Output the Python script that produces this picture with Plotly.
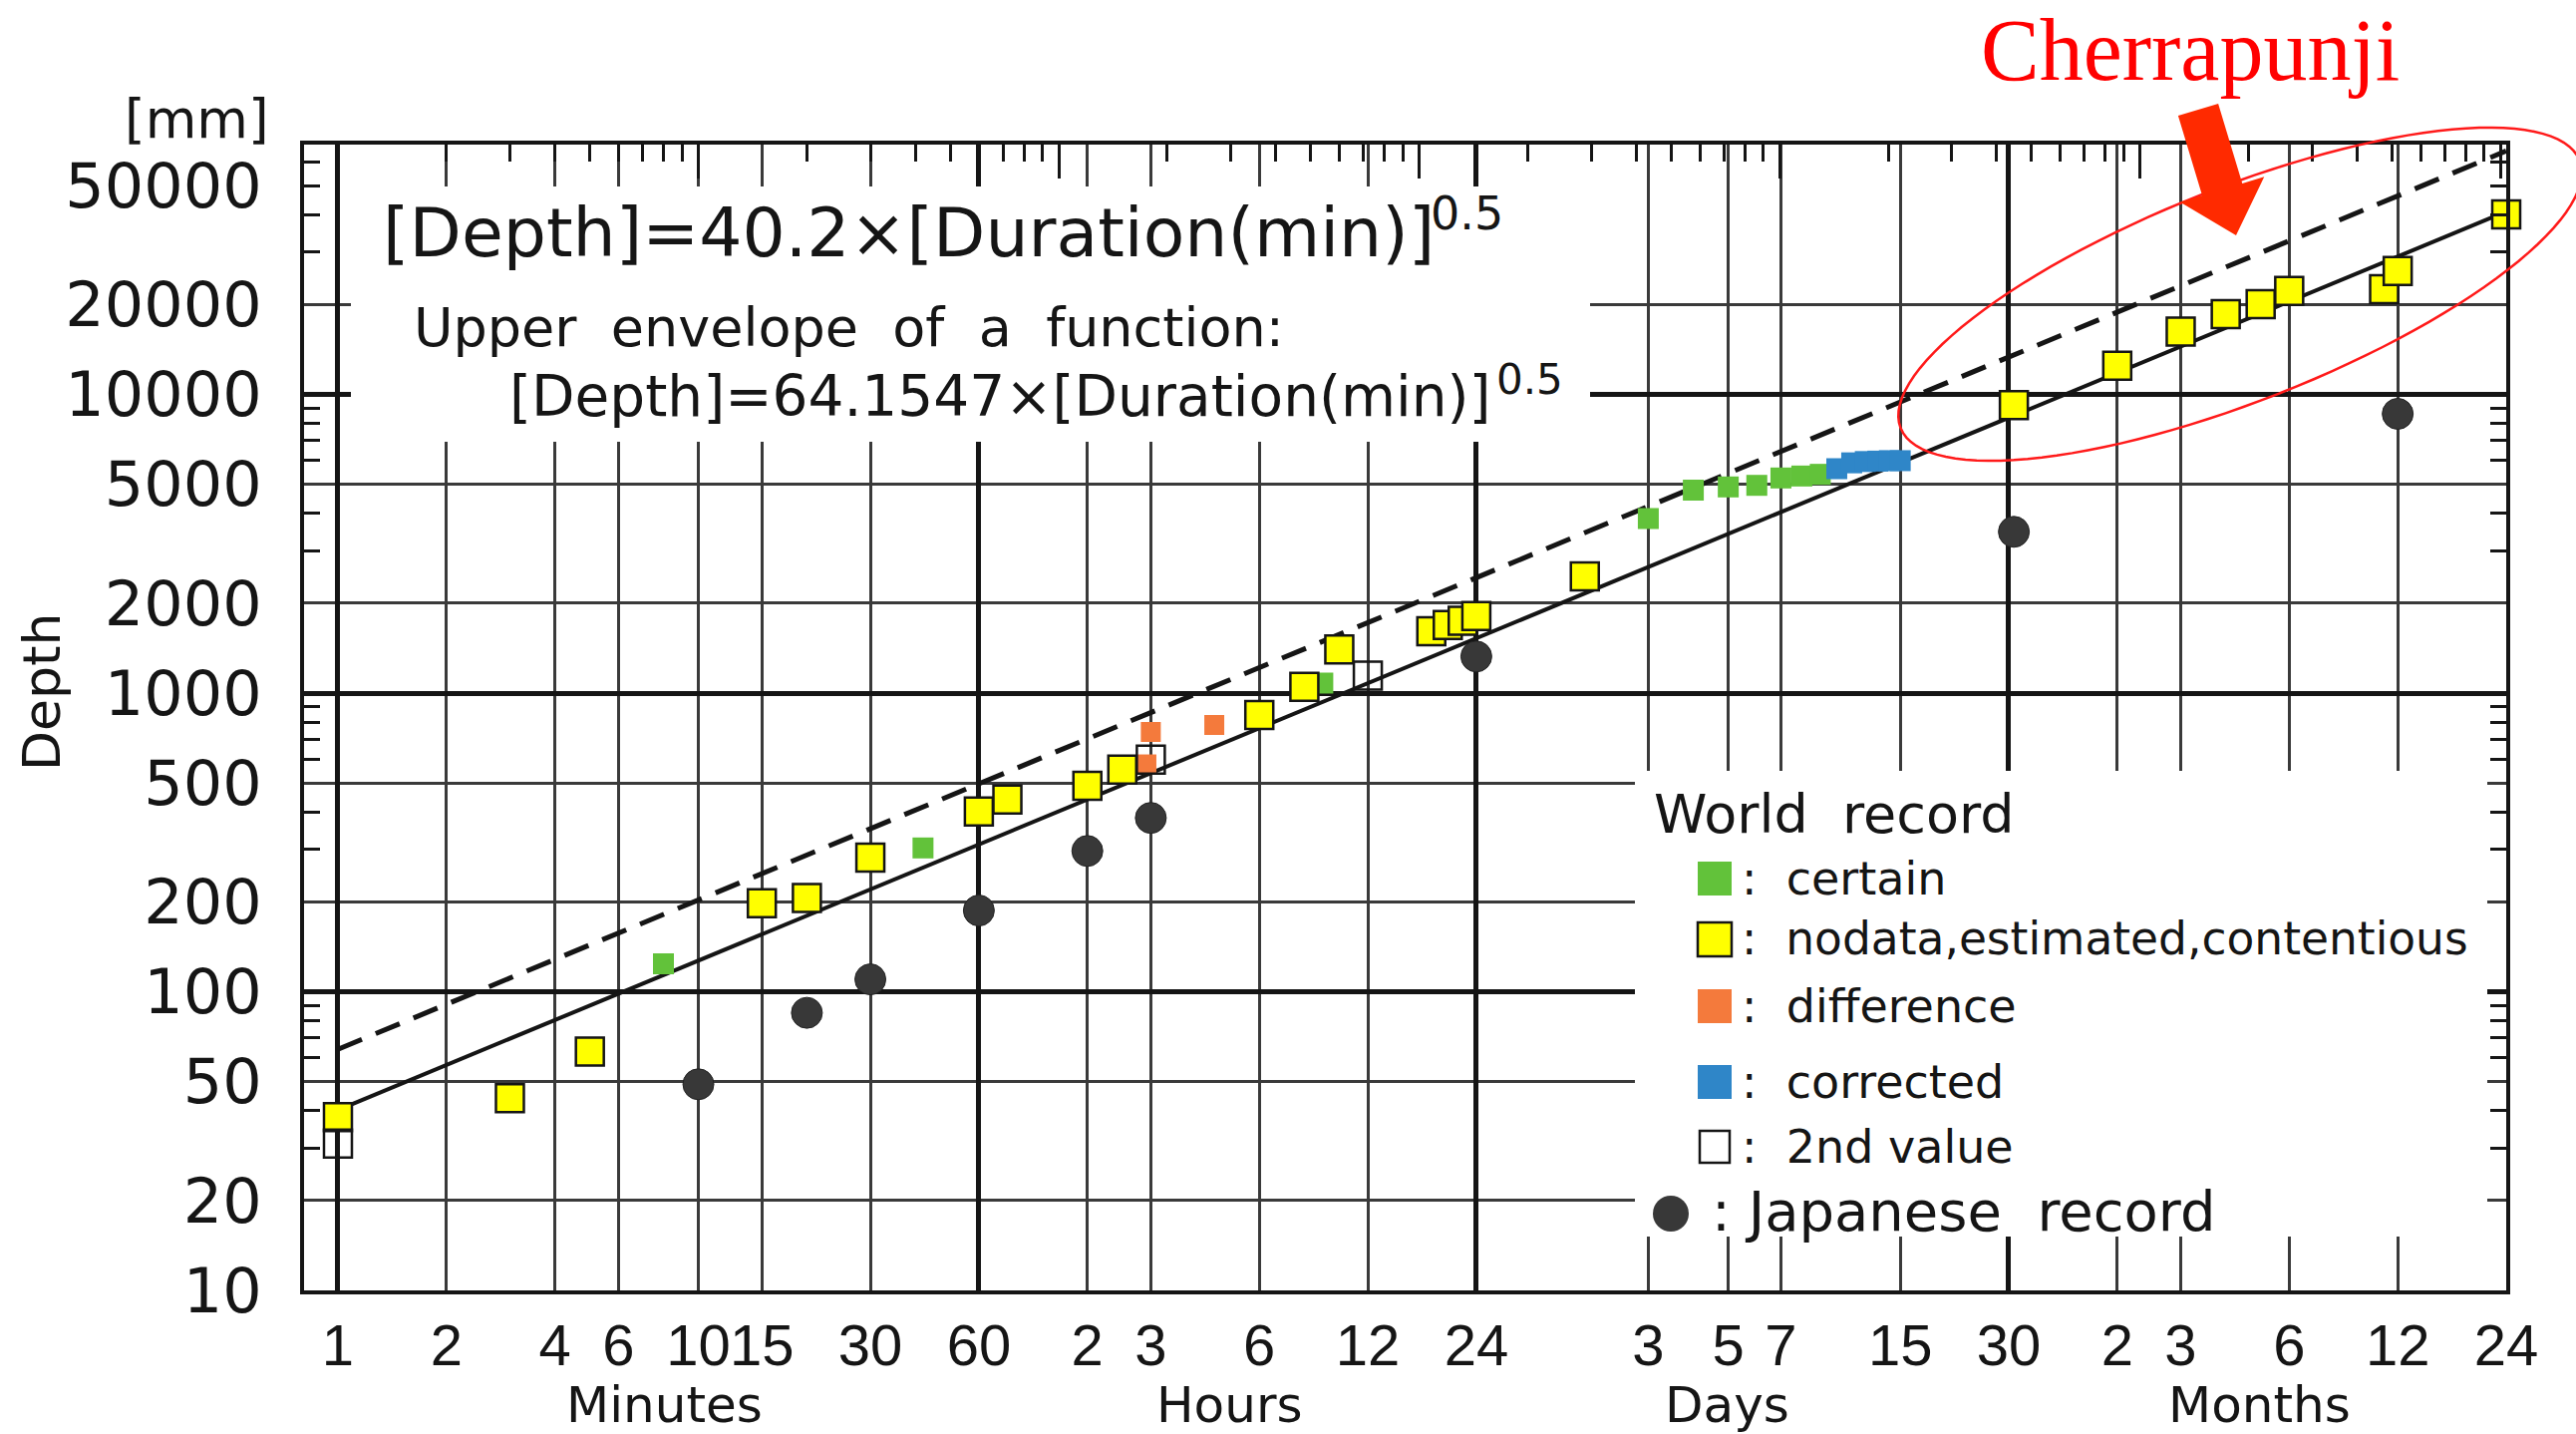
import numpy as np
import plotly.graph_objects as go

# ---------------- data (duration in minutes, depth in mm) ----------------
x_tick_vals = [1, 2, 4, 6, 10, 15, 30, 60, 120, 180, 360, 720, 1440,
               4320, 7200, 10080, 21600, 43200, 86400, 129600, 259200, 518400, 1036800]
x_tick_text = ["1", "2", "4", "6", "10", "15", "30", "60", "2", "3", "6", "12", "24",
               "3", "5", "7", "15", "30", "2", "3", "6", "12", "24"]
x_thick_grid = [1, 60, 1440, 43200]
x_top_major = [1, 10, 100, 1000, 10000, 100000, 1000000]
x_top_minor = [m * 10 ** k for k in range(0, 7) for m in range(2, 10) if m * 10 ** k <= 1036800]

y_tick_vals = [10, 20, 50, 100, 200, 500, 1000, 2000, 5000, 10000, 20000, 50000]
y_tick_text = ["10", "20", "50", "100", "200", "500", "1000", "2000", "5000", "10000", "20000", "50000"]
y_thin_grid = [20, 50, 200, 500, 2000, 5000, 20000]
y_thick_grid = [100, 1000, 10000]
y_minor = [30, 40, 60, 70, 80, 90, 300, 400, 600, 700, 800, 900,
           3000, 4000, 6000, 7000, 8000, 9000, 30000, 40000, 50000, 60000]

category_labels = ["Minutes", "Hours", "Days", "Months"]

certain_min = [8, 42, 540, 4320, 5760, 7200, 8640, 10080, 11520, 12960]
certain_mm = [124, 303, 1080, 3840, 4780, 4900, 4960, 5250, 5330, 5400]

estimated_min = [1, 3, 5, 15, 20, 30, 60, 72, 120, 150, 360, 480, 600, 1080, 1200, 1320, 1440,
                 2880, 44640, 86400, 129600, 172800, 216000, 259200, 475200, 518400, 1036800]
estimated_mm = [38, 44, 63, 198, 206, 281, 401, 440, 489, 554, 845, 1050, 1400, 1610, 1690, 1745, 1810,
                2460, 9200, 12480, 16220, 18580, 20050, 22220, 22490, 25900, 40060]

difference_min = [175, 180, 270]
difference_mm = [577, 741, 782]

corrected_min = [14400, 15840, 17280, 18720, 20160, 21600]
corrected_mm = [5640, 5900, 5960, 5980, 6000, 6000]

second_min = [1, 180, 720]
second_mm = [31, 599, 1144]

japan_min = [10, 20, 30, 60, 120, 180, 1440, 44640, 518400]
japan_mm = [49, 85, 110, 187, 296, 382, 1326, 3467, 8610]

fit_coef = 40.2
envelope_coef = 64.1547
fit_exp = 0.5
line_min = [1, 1036800]

# ---------------- geometry helpers (pixel -> paper units) ----------------
W, H = 2584, 1438
L, R, T, B = 305, 2514, 145, 1294
XR = [np.log10(1) - 0.094, np.log10(1036800)]
YR = [1.0, 4.8364]


def px(X):
    return (X - L) / (R - L)


def py(Y):
    return (B - Y) / (B - T)


FONT = "DejaVu Sans"
INK = "#151515"
GREEN = "#62c23a"
YELLOW = "#ffff00"
ORANGE = "#f47a3c"
BLUE = "#2f86c8"
DARK = "#383838"

fig = go.Figure()

# fitted lines
fig.add_trace(go.Scatter(x=line_min, y=[fit_coef * v ** fit_exp for v in line_min], mode="lines",
                         line=dict(color=INK, width=4), hoverinfo="skip"))
fig.add_trace(go.Scatter(x=line_min, y=[envelope_coef * v ** fit_exp for v in line_min], mode="lines",
                         line=dict(color=INK, width=5, dash="26px,15px"), hoverinfo="skip"))

# records
fig.add_trace(go.Scatter(x=japan_min, y=japan_mm, mode="markers", cliponaxis=False,
                         marker=dict(symbol="circle", size=31, color=DARK, line=dict(color="#222", width=1))))
fig.add_trace(go.Scatter(x=certain_min, y=certain_mm, mode="markers", cliponaxis=False,
                         marker=dict(symbol="square", size=21, color=GREEN, line=dict(width=0))))
fig.add_trace(go.Scatter(x=corrected_min, y=corrected_mm, mode="markers", cliponaxis=False,
                         marker=dict(symbol="square", size=21, color=BLUE, line=dict(width=0))))
fig.add_trace(go.Scatter(x=difference_min, y=difference_mm, mode="markers", cliponaxis=False,
                         marker=dict(symbol="square", size=20, color=ORANGE, line=dict(width=0))))
fig.add_trace(go.Scatter(x=estimated_min, y=estimated_mm, mode="markers", cliponaxis=False,
                         marker=dict(symbol="square", size=28, color=YELLOW, line=dict(color=INK, width=2.5))))
fig.add_trace(go.Scatter(x=second_min, y=second_mm, mode="markers", cliponaxis=False,
                         marker=dict(symbol="square-open", size=28, color=INK, line=dict(width=2.5))))

# dummy traces to create overlay subplots used for grids / top ticks
fig.add_trace(go.Scatter(x=[None], y=[None], xaxis="x2", yaxis="y2", hoverinfo="skip"))
fig.add_trace(go.Scatter(x=[None], y=[None], xaxis="x", yaxis="y3", hoverinfo="skip"))
fig.add_trace(go.Scatter(x=[None], y=[None], xaxis="x3", yaxis="y", hoverinfo="skip"))

common_hidden = dict(type="log", showticklabels=False, showline=False, zeroline=False, ticks="")

fig.update_layout(
    width=W, height=H,
    margin=dict(l=L, r=W - R, t=T, b=H - B),
    paper_bgcolor="white", plot_bgcolor="white",
    font=dict(family=FONT, color=INK, size=40),
    showlegend=False, hovermode=False,
    xaxis=dict(type="log", range=XR, tickmode="array", tickvals=x_tick_vals, ticktext=x_tick_text,
               tickangle=0, tickfont=dict(size=58, color=INK, family="Liberation Sans"),
               ticklabelstandoff=1,
               showgrid=True, gridcolor="#3a3a3a", gridwidth=2.5, ticks="",
               showline=True, linecolor=INK, linewidth=4, mirror=True, zeroline=False),
    yaxis=dict(type="log", range=YR, tickmode="array", tickvals=y_tick_vals, ticktext=y_tick_text,
               tickfont=dict(size=62, color=INK), ticklabelstandoff=26,
               showgrid=False, ticks="", showline=True, linecolor=INK, linewidth=4,
               mirror="ticks", zeroline=False,
               minor=dict(tickmode="array", tickvals=y_minor, ticks="inside", ticklen=16,
                          tickwidth=3, tickcolor=INK, showgrid=False)),
    xaxis2=dict(common_hidden, range=XR, overlaying="x", anchor="y2", tickmode="array",
                tickvals=x_thick_grid, showgrid=True, gridcolor=INK, gridwidth=5),
    yaxis2=dict(common_hidden, range=YR, overlaying="y", anchor="x2", tickmode="array",
                tickvals=y_thick_grid, showgrid=True, gridcolor=INK, gridwidth=4.5),
    yaxis3=dict(common_hidden, range=YR, overlaying="y", anchor="x", tickmode="array",
                tickvals=y_thin_grid, showgrid=True, gridcolor="#3a3a3a", gridwidth=2.5),
    xaxis3=dict(type="log", range=XR, overlaying="x", anchor="y", side="top", tickmode="array",
                tickvals=x_top_major, ticks="inside", ticklen=34, tickwidth=3, tickcolor=INK,
                showticklabels=False, showgrid=False, showline=False, zeroline=False,
                minor=dict(tickmode="array", tickvals=x_top_minor, ticks="inside", ticklen=17,
                           tickwidth=3, tickcolor=INK, showgrid=False)),
)

shapes = []


def prect(x0, y0, x1, y1, fill, lw=0, lc=INK):
    return dict(type="rect", xref="paper", yref="paper", x0=px(x0), x1=px(x1), y0=py(y1), y1=py(y0),
                fillcolor=fill, line=dict(width=lw, color=lc), layer="above")


# white panels hiding the grid under the texts
shapes.append(prect(352, 187, 1595, 443, "white"))
shapes.append(prect(1640, 773, 2495, 1240, "white"))

# legend glyphs
shapes.append(prect(1703, 864, 1737, 898, GREEN))
shapes.append(prect(1703, 925, 1737, 959, YELLOW, 2.5))
shapes.append(prect(1703, 992, 1737, 1026, ORANGE))
shapes.append(prect(1703, 1068, 1737, 1102, BLUE))
shapes.append(prect(1705, 1134, 1735, 1166, "rgba(0,0,0,0)", 2.5))
shapes.append(dict(type="circle", xref="paper", yref="paper", x0=px(1658), x1=px(1694),
                   y0=py(1235), y1=py(1199), fillcolor=DARK, line=dict(width=0), layer="above"))

# red ellipse around Cherrapunji
cx, cy, a, b, th = 2247.0, 295.0, 366.0, 107.0, np.deg2rad(21.5)
phi = np.linspace(0, 2 * np.pi, 121)
ex = cx + a * np.cos(phi) * np.cos(th) + b * np.sin(phi) * np.sin(th)
ey = cy - a * np.cos(phi) * np.sin(th) + b * np.sin(phi) * np.cos(th)
path = "M " + " L ".join(f"{px(X):.5f},{py(Y):.5f}" for X, Y in zip(ex, ey)) + " Z"
shapes.append(dict(type="path", xref="paper", yref="paper", path=path,
                   line=dict(color="#ff1a1a", width=2.5), fillcolor="rgba(0,0,0,0)", layer="above"))

# red arrow
S = np.array([2205.0, 110.0])
Tp = np.array([2243.0, 236.0])
u = (Tp - S) / np.linalg.norm(Tp - S)
n = np.array([u[1], -u[0]])
Bc = Tp - 48 * u
pts = [S + 21 * n, Bc + 21 * n, Bc + 44 * n, Tp, Bc - 44 * n, Bc - 21 * n, S - 21 * n]
apath = "M " + " L ".join(f"{px(p[0]):.5f},{py(p[1]):.5f}" for p in pts) + " Z"
shapes.append(dict(type="path", xref="paper", yref="paper", path=apath,
                   line=dict(width=0), fillcolor="#ff2a00", layer="above"))

fig.update_layout(shapes=shapes)

NB = "\u00a0"
ann = []


def text(X, Y, s, size, xanchor="left", color=INK, family=FONT, angle=0):
    ann.append(dict(xref="paper", yref="paper", x=px(X), y=py(Y), text=s, showarrow=False,
                    xanchor=xanchor, yanchor="middle", textangle=angle, borderpad=0,
                    font=dict(size=size, color=color, family=family)))


text(383, 233, "[Depth]=40.2×[Duration(min)]", 68)
text(1434, 214, "0.5", 46)
text(414, 328, f"Upper{NB}{NB}envelope{NB}{NB}of{NB}{NB}a{NB}{NB}function:", 54)
text(510, 397, "[Depth]=64.1547×[Duration(min)]", 56.5)
text(1500, 381, "0.5", 42)

text(197, 120, "[mm]", 53, xanchor="center")
text(42, 694, "Depth", 52, xanchor="center", angle=-90)

for lab, X in zip(category_labels, [666, 1233, 1732, 2266]):
    text(X, 1409, lab, 50, xanchor="center")

text(1658, 816, f"World{NB}{NB}record", 54)
text(1746, 881, f":{NB}{NB}certain", 46)
text(1746, 942, f":{NB}{NB}nodata,estimated,contentious", 45.5)
text(1746, 1009, f":{NB}{NB}difference", 46)
text(1746, 1085, f":{NB}{NB}corrected", 46)
text(1746, 1150, f":{NB}{NB}2nd{NB}value", 46)
text(1716, 1214, f":{NB}Japanese{NB}{NB}record", 56)

text(2197, 50, "Cherrapunji", 88, xanchor="center", color="#ff0000", family="Liberation Serif")

fig.update_layout(annotations=ann)

fig.write_html("out.html", config={"displayModeBar": False},
               post_script="document.body.style.margin='0px';document.body.style.overflow='hidden';")
